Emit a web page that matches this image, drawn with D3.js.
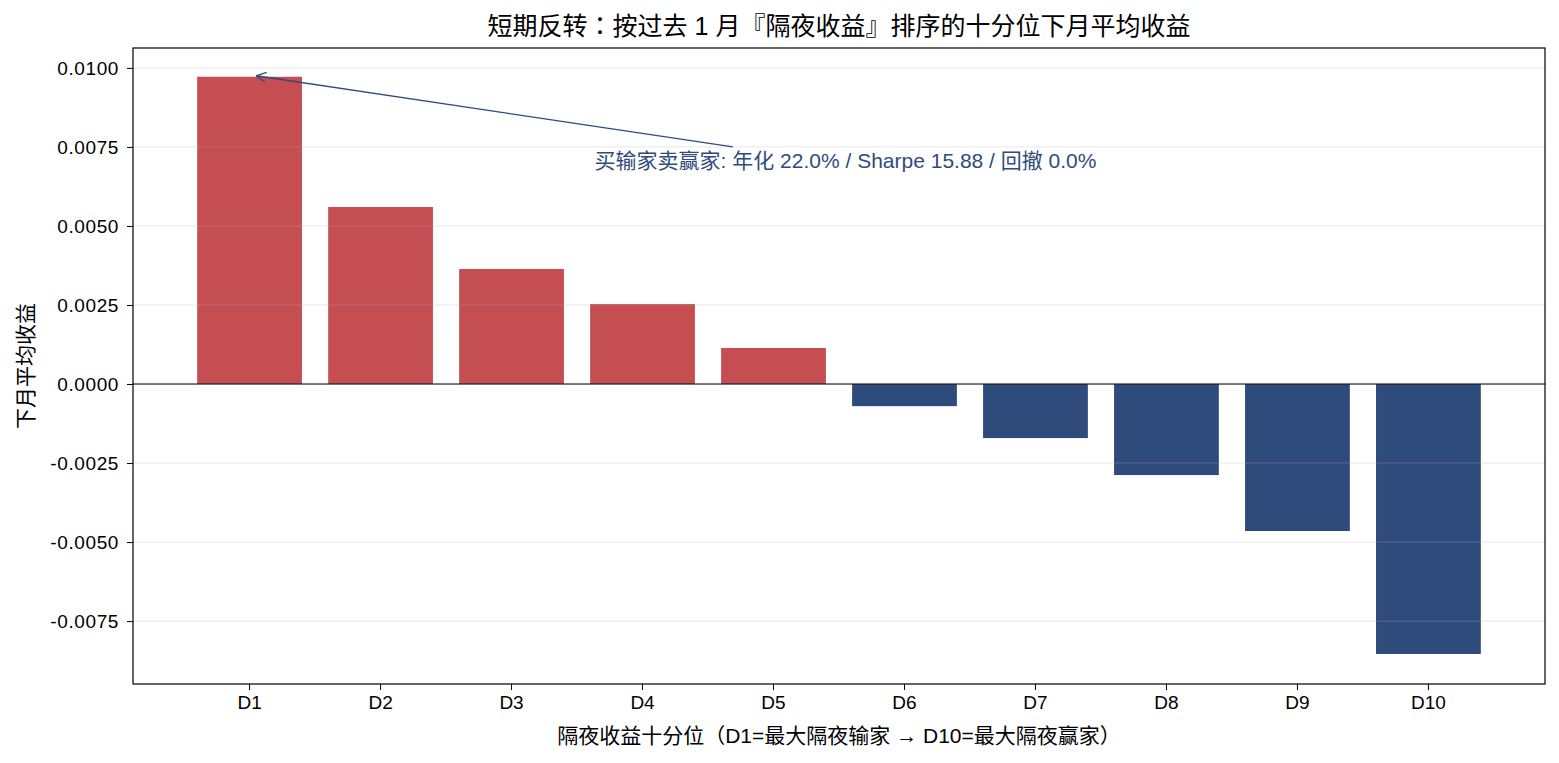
<!DOCTYPE html>
<html>
<head>
<meta charset="utf-8">
<script src="https://cdn.jsdelivr.net/npm/d3@7"></script>
<style>
  body { margin: 0; background: #fff; }
  svg text { font-family: "Liberation Sans", Arial, "Noto Sans CJK SC", sans-serif; fill: #000; }
</style>
</head>
<body>
<script>
const deciles = ['D1', 'D2', 'D3', 'D4', 'D5', 'D6', 'D7', 'D8', 'D9', 'D10'];
const meanReturns = [0.00972, 0.0056, 0.00364, 0.00253, 0.00114, -0.0007, -0.00171, -0.00288, -0.00465, -0.00854];
const yTicks = [-0.0075, -0.005, -0.0025, 0, 0.0025, 0.005, 0.0075, 0.01];
const titleText = '短期反转：按过去 1 月『隔夜收益』排序的十分位下月平均收益';
const xLabel = '隔夜收益十分位（D1=最大隔夜输家 → D10=最大隔夜赢家）';
const yLabel = '下月平均收益';
const noteText = '买输家卖赢家: 年化 22.0% / Sharpe 15.88 / 回撤 0.0%';

const width = 1559, height = 763;
const plotLeft = 133, plotRight = 1545, plotTop = 48, plotBottom = 684;
const red = '#c44e52', blue = '#2f4b7c';

const svg = d3.select('body').append('svg')
  .attr('width', width)
  .attr('height', height);

const xScale = d3.scaleBand()
  .domain(deciles)
  .range([plotLeft, plotRight])
  .paddingInner(0.2)
  .paddingOuter(0.49);

const yScale = d3.scaleLinear()
  .domain([-0.00949, 0.01063])
  .range([plotBottom, plotTop]);

// bars
svg.append('g').selectAll('rect')
  .data(meanReturns)
  .enter()
  .append('rect')
  .attr('x', (d, i) => xScale(deciles[i]))
  .attr('width', xScale.bandwidth())
  .attr('y', d => yScale(Math.max(d, 0)))
  .attr('height', d => Math.abs(yScale(d) - yScale(0)))
  .attr('fill', d => d >= 0 ? red : blue);

// grid on top of bars
svg.append('g').selectAll('line')
  .data(yTicks)
  .enter()
  .append('line')
  .attr('x1', plotLeft).attr('x2', plotRight)
  .attr('y1', d => yScale(d)).attr('y2', d => yScale(d))
  .attr('stroke', '#b0b0b0')
  .attr('stroke-opacity', 0.3)
  .attr('stroke-width', 1);

// zero line
svg.append('line')
  .attr('x1', plotLeft).attr('x2', plotRight)
  .attr('y1', yScale(0)).attr('y2', yScale(0))
  .attr('stroke', '#000')
  .attr('stroke-width', 1);

// axes
const xAxis = d3.axisBottom(xScale).tickSizeOuter(0).tickSize(6).tickPadding(6);
const yAxis = d3.axisLeft(yScale).tickValues(yTicks).tickSizeOuter(0).tickSize(6).tickPadding(8)
  .tickFormat(d => d3.format('.4f')(d).replace('−', '-'));

const gx = svg.append('g')
  .attr('transform', 'translate(0,' + plotBottom + ')')
  .call(xAxis);
const gy = svg.append('g')
  .attr('transform', 'translate(' + plotLeft + ',0)')
  .call(yAxis);

[gx, gy].forEach(g => {
  g.select('.domain').remove();
  g.selectAll('.tick line').attr('stroke', '#000');
  g.selectAll('.tick text').style('font-size', '19px').attr('fill', '#000');
});
gy.selectAll('.tick text').style('letter-spacing', '0.6px');

// frame
svg.append('rect')
  .attr('x', plotLeft).attr('y', plotTop)
  .attr('width', plotRight - plotLeft).attr('height', plotBottom - plotTop)
  .attr('fill', 'none')
  .attr('stroke', '#000')
  .attr('stroke-width', 1.2);

// annotation
const defs = svg.append('defs');
defs.append('marker')
  .attr('id', 'arrow')
  .attr('viewBox', '0 0 10 10')
  .attr('refX', 10).attr('refY', 5)
  .attr('markerWidth', 10).attr('markerHeight', 10)
  .attr('markerUnits', 'userSpaceOnUse')
  .attr('orient', 'auto')
  .append('path')
  .attr('d', 'M0,0 L10,5 L0,10')
  .attr('fill', 'none')
  .attr('stroke', blue)
  .attr('stroke-width', 1.3);

const step = xScale.step();
const x0 = xScale('D1') + xScale.bandwidth() / 2;
svg.append('line')
  .attr('x1', x0 + 3.69 * step).attr('y1', yScale(0.0075))
  .attr('x2', x0 + 0.05 * step).attr('y2', yScale(meanReturns[0]) - 1)
  .attr('stroke', blue)
  .attr('stroke-width', 1.3)
  .attr('marker-end', 'url(#arrow)');

svg.append('text')
  .attr('x', x0 + 4.55 * step)
  .attr('y', 168)
  .attr('text-anchor', 'middle')
  .style('font-size', '21px')
  .style('fill', blue)
  .text(noteText);

// full-width punctuation drawn centred, as in the original
function addText(sel, str) {
  str.split(/([：（）])/).forEach(part => {
    if (!part) return;
    const t = sel.append('tspan').text(part);
    if (/[：（）]/.test(part)) t.style('font-family', '"Noto Sans CJK TC", sans-serif');
  });
}

// titles
addText(svg.append('text')
  .attr('x', (plotLeft + plotRight) / 2)
  .attr('y', 35)
  .attr('text-anchor', 'middle')
  .style('font-size', '25px'), titleText);

addText(svg.append('text')
  .attr('x', (plotLeft + plotRight) / 2)
  .attr('y', 743)
  .attr('text-anchor', 'middle')
  .style('font-size', '21px'), xLabel);

svg.append('text')
  .attr('transform', 'translate(33,' + (plotTop + plotBottom) / 2 + ') rotate(-90)')
  .attr('text-anchor', 'middle')
  .style('font-size', '21px')
  .text(yLabel);
</script>
</body>
</html>
